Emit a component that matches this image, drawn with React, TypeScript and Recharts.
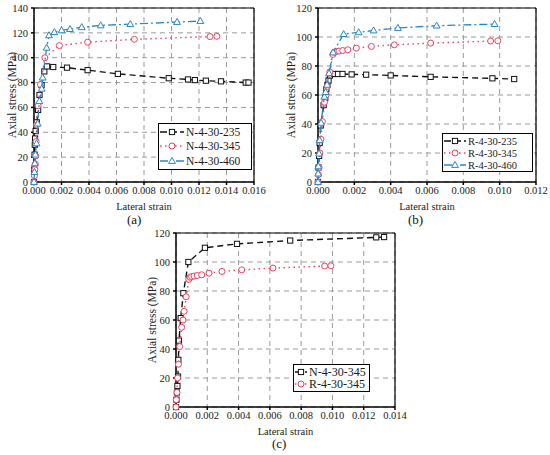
import {
  ScatterChart,
  Scatter,
  CartesianGrid,
  XAxis,
  YAxis,
  ReferenceLine,
} from "recharts";

// N-4-30-235
const n235Strain = [0, 0.00002, 0.00004, 0.00006, 0.00008, 0.00012, 0.0002, 0.0003, 0.0004, 0.00055, 0.00075, 0.00095, 0.0014, 0.0024, 0.0039, 0.0061, 0.0098, 0.0112, 0.0117, 0.0125, 0.0136, 0.0154, 0.0156];
const n235Stress = [0, 10, 22, 30, 35, 41, 48, 58, 70, 78, 89, 93, 92.5, 92, 90, 87, 83.5, 82.5, 82, 81.5, 81, 80, 80];

// N-4-30-345
const n345Strain = [0, 0.00003, 0.00006, 0.00009, 0.00013, 0.00015, 0.00019, 0.0003, 0.00047, 0.00079, 0.00185, 0.0039, 0.0073, 0.0128, 0.0133];
const n345Stress = [0, 5, 10, 14.5, 21, 32.5, 45.8, 61.3, 78.5, 100, 109.8, 112.5, 114.8, 117, 117.2];

// N-4-30-460
const n460Strain = [0, 0.00003, 0.00006, 0.0001, 0.00019, 0.00027, 0.00039, 0.00056, 0.00063, 0.00092, 0.00109, 0.00148, 0.00201, 0.00262, 0.00347, 0.00485, 0.007, 0.0104, 0.0121];
const n460Stress = [0, 8, 15, 22, 31, 47, 65, 75, 84, 108, 118, 120.5, 122, 123, 124.5, 126, 127, 128.7, 129.5];

// R-4-30-235
const r235Strain = [0, 0.00003, 0.00006, 0.00009, 0.00015, 0.00031, 0.0004, 0.00046, 0.00052, 0.00058, 0.00066, 0.0009, 0.0011, 0.00135, 0.00185, 0.00265, 0.004, 0.0062, 0.0096, 0.0108];
const r235Stress = [0, 10, 18, 27, 39, 53, 58, 64, 67, 70, 73.5, 74.5, 74.5, 74.5, 74.2, 74, 73.5, 72.5, 71.5, 71];

// R-4-30-345
const r345Strain = [0, 0.00002, 0.00006, 0.0001, 0.00016, 0.00024, 0.00036, 0.00045, 0.00052, 0.00065, 0.00082, 0.0009, 0.001, 0.00115, 0.00136, 0.00164, 0.00211, 0.00294, 0.0042, 0.0062, 0.0095, 0.0099];
const r345Stress = [0, 5, 10, 20, 29.5, 41.7, 55, 60, 66, 76, 88, 89.5, 90, 90.3, 90.7, 91.2, 92.3, 93.5, 94.6, 95.8, 97.2, 97.4];

// R-4-30-460
const r460Strain = [0, 0.00001, 0.00002, 0.00006, 0.00009, 0.00017, 0.00035, 0.00042, 0.0005, 0.00061, 0.00083, 0.00141, 0.00224, 0.00306, 0.0044, 0.00653, 0.00972];
const r460Stress = [0, 5.8, 10.8, 19.6, 28.8, 40.8, 58.8, 62, 67, 75, 89.3, 102, 103.2, 104.5, 106.2, 107.8, 108.9];

const xTicksA = [0, 0.002, 0.004, 0.006, 0.008, 0.01, 0.012, 0.014, 0.016];
const xTicksB = [0, 0.002, 0.004, 0.006, 0.008, 0.01, 0.012];
const xTicksC = [0, 0.002, 0.004, 0.006, 0.008, 0.01, 0.012, 0.014];
const yTicksA = [0, 20, 40, 60, 80, 100, 120, 140];
const yTicksB = [0, 20, 40, 60, 80, 100, 120];

const FONT = "Liberation Serif, Times New Roman, serif";
const BLACK = "#111111";
const RED = "#f2405e";
const BLUE = "#2a86c8";

const pts = (xs: number[], ys: number[]) => xs.map((x, i) => ({ x, y: ys[i] }));

type Kind = "square" | "circle" | "triangle";

const styles: Record<Kind, { color: string; dash: string; width: number }> = {
  square: { color: BLACK, dash: "6 4", width: 1.4 },
  circle: { color: RED, dash: "1.5 3.5", width: 1.4 },
  triangle: { color: BLUE, dash: "8 3 2 3", width: 1.3 },
};

const Marker = ({ kind, cx, cy }: { kind: Kind; cx: number; cy: number }) => {
  const c = styles[kind].color;
  if (kind === "square")
    return <rect x={cx - 2.6} y={cy - 2.6} width={5.2} height={5.2} fill="#fff" stroke={c} strokeWidth={1} />;
  if (kind === "circle") return <circle cx={cx} cy={cy} r={3} fill="#fff" stroke={c} strokeWidth={1} />;
  return (
    <polygon
      points={`${cx},${cy - 3.6} ${cx - 3.4},${cy + 2.4} ${cx + 3.4},${cy + 2.4}`}
      fill="#fff"
      stroke={c}
      strokeWidth={1}
    />
  );
};

type Series = { name: string; kind: Kind; data: { x: number; y: number }[] };

type Box = { left: number; top: number; width: number; height: number; font: number; sample: number };

const LegendBox = ({ series, box }: { series: Series[]; box: Box }) => (
  <div
    style={{
      position: "absolute",
      left: box.left,
      top: box.top,
      width: box.width,
      height: box.height,
      boxSizing: "border-box",
      border: "1.5px solid #000",
      background: "#fff",
      padding: "1px 1px",
      display: "flex",
      flexDirection: "column",
      justifyContent: "space-around",
      fontFamily: FONT,
      fontSize: box.font,
      color: "#1a1a1a",
      whiteSpace: "nowrap",
    }}
  >
    {series.map((s) => (
      <div key={s.name} style={{ display: "flex", alignItems: "center", height: 12 }}>
        <svg width={box.sample} height={12} style={{ marginRight: 2, flex: "none" }}>
          <line
            x1={0}
            y1={6}
            x2={box.sample}
            y2={6}
            stroke={styles[s.kind].color}
            strokeWidth={1.4}
            strokeDasharray={s.kind === "square" ? "7 3" : styles[s.kind].dash}
          />
          <Marker kind={s.kind} cx={box.sample / 2} cy={6} />
        </svg>
        <span>{s.name}</span>
      </div>
    ))}
  </div>
);

type PanelProps = {
  left: number;
  top: number;
  width: number;
  height: number;
  yAxisWidth: number;
  marginRight: number;
  xTicks: number[];
  yTicks: number[];
  yLabelOffset: number;
  series: Series[];
  legendBox: Box;
  tag: string;
  tagPos: { left: number; top: number };
};

const Panel = (p: PanelProps) => {
  const xMax = p.xTicks[p.xTicks.length - 1];
  const yMax = p.yTicks[p.yTicks.length - 1];
  const tick = { fontFamily: FONT, fontSize: 10.5, fill: "#1a1a1a" };
  return (
    <div style={{ position: "absolute", left: p.left, top: p.top, width: p.width, height: p.height + 30 }}>
      <ScatterChart
        width={p.width}
        height={p.height}
        margin={{ top: 8, right: p.marginRight, left: 0, bottom: 3 }}
      >
        <CartesianGrid stroke="#9a9a9a" strokeDasharray="5 4" strokeWidth={1} />
        <XAxis
          type="number"
          dataKey="x"
          domain={[0, xMax]}
          ticks={p.xTicks}
          tickFormatter={(v: number) => v.toFixed(3)}
          height={28}
          tickSize={3}
          tickMargin={2}
          interval={0}
          stroke="#000"
          strokeWidth={1.5}
          tick={tick}
          label={{
            value: "Lateral strain",
            position: "insideBottom",
            offset: 0,
            style: { fontFamily: FONT, fontSize: 10.5, fill: "#1a1a1a" },
          }}
        />
        <YAxis
          type="number"
          dataKey="y"
          domain={[0, yMax]}
          ticks={p.yTicks}
          width={p.yAxisWidth}
          tickSize={3}
          tickMargin={3}
          interval={0}
          stroke="#000"
          strokeWidth={1.5}
          tick={tick}
          label={{
            value: "Axial stress (MPa)",
            angle: -90,
            position: "insideLeft",
            offset: p.yLabelOffset,
            style: { fontFamily: FONT, fontSize: 11.5, fill: "#1a1a1a", textAnchor: "middle" },
          }}
        />
        <ReferenceLine y={yMax} stroke="#000" strokeWidth={1.2} />
        <ReferenceLine x={xMax} stroke="#000" strokeWidth={1.2} />
        {p.series.map((s) => (
          <Scatter
            key={s.name}
            name={s.name}
            data={s.data}
            fill={styles[s.kind].color}
            line={{
              stroke: styles[s.kind].color,
              strokeWidth: styles[s.kind].width,
              strokeDasharray: styles[s.kind].dash,
            }}
            shape={(sp: any) => <Marker kind={s.kind} cx={sp.cx} cy={sp.cy} />}
            isAnimationActive={false}
          />
        ))}
      </ScatterChart>
      <LegendBox series={p.series} box={p.legendBox} />
      <div
        style={{
          position: "absolute",
          left: p.tagPos.left,
          top: p.tagPos.top,
          fontFamily: FONT,
          fontSize: 13,
          lineHeight: "15px",
          color: "#111",
        }}
      >
        {p.tag}
      </div>
    </div>
  );
};

export default function App() {
  const n235: Series = { name: "N-4-30-235", kind: "square", data: pts(n235Strain, n235Stress) };
  const n345: Series = { name: "N-4-30-345", kind: "circle", data: pts(n345Strain, n345Stress) };
  const n460: Series = { name: "N-4-30-460", kind: "triangle", data: pts(n460Strain, n460Stress) };
  const r235: Series = { name: "R-4-30-235", kind: "square", data: pts(r235Strain, r235Stress) };
  const r345: Series = { name: "R-4-30-345", kind: "circle", data: pts(r345Strain, r345Stress) };
  const r460: Series = { name: "R-4-30-460", kind: "triangle", data: pts(r460Strain, r460Stress) };
  const n345c: Series = { ...n345, kind: "square" };

  return (
    <div
      style={{
        position: "absolute",
        left: 0,
        top: 0,
        width: 550,
        height: 455,
        background: "#fff",
        overflow: "hidden",
      }}
    >
      <Panel
        left={0}
        top={0}
        width={275}
        height={213}
        yAxisWidth={34}
        marginRight={21}
        xTicks={xTicksA}
        yTicks={yTicksA}
        yLabelOffset={12}
        series={[n235, n345, n460]}
        legendBox={{ left: 158, top: 123, width: 94, height: 47, font: 11.5, sample: 24 }}
        tag="(a)"
        tagPos={{ left: 127, top: 212 }}
      />
      <Panel
        left={275}
        top={0}
        width={275}
        height={213}
        yAxisWidth={43}
        marginRight={14}
        xTicks={xTicksB}
        yTicks={yTicksB}
        yLabelOffset={16}
        series={[r235, r345, r460]}
        legendBox={{ left: 167, top: 133, width: 91, height: 39, font: 10.5, sample: 22 }}
        tag="(b)"
        tagPos={{ left: 133, top: 212 }}
      />
      <Panel
        left={140}
        top={225}
        width={280}
        height={213}
        yAxisWidth={36}
        marginRight={25}
        xTicks={xTicksC}
        yTicks={yTicksB}
        yLabelOffset={12}
        series={[n345c, r345]}
        legendBox={{ left: 153, top: 139, width: 77, height: 28, font: 12, sample: 12 }}
        tag="(c)"
        tagPos={{ left: 132, top: 211 }}
      />
    </div>
  );
}
